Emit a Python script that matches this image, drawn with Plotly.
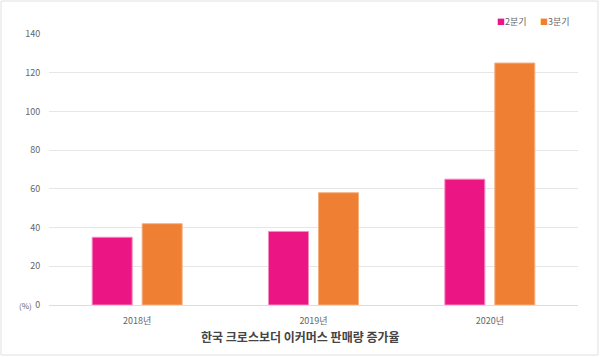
import plotly.graph_objects as go

years = ["2018년", "2019년", "2020년"]
q2 = [35, 38, 65]
q3 = [42, 58, 125]
series_names = ["2분기", "3분기"]
colors = ["#eb1584", "#ee7f33"]
y_ticks = [0, 20, 40, 60, 80, 100, 120, 140]
title_text = "한국 크로스보더 이커머스 판매량 증가율"

FONT = "Noto Sans CJK KR"
fig = go.Figure()
fig.add_trace(go.Bar(x=years, y=q2, name=series_names[0], showlegend=False,
                     marker=dict(color=colors[0], line=dict(color="#f58cc0", width=1))))
fig.add_trace(go.Bar(x=years, y=q3, name=series_names[1], showlegend=False,
                     marker=dict(color=colors[1], line=dict(color="#f5b080", width=1))))

L, R, T, B = 49, 22, 34, 52
W, H = 600, 357
pw, ph = W - L - R, H - T - B

def px_x(p):
    return (p - L) / pw

def px_y(p):
    return (H - B - p) / ph

legend_x = [512, 555]
annotations = [
    dict(text="(%)", xref="paper", yref="paper", x=px_x(25), y=0, xanchor="center", yanchor="middle",
         showarrow=False, font=dict(size=8, color="#666666")),
    dict(text="<b>" + title_text + "</b>", xref="paper", yref="paper", x=px_x(300), y=px_y(336),
         xanchor="center", yanchor="middle", showarrow=False, font=dict(size=12, color="#444444")),
]
for name, c, lx in zip(series_names, colors, legend_x):
    annotations.append(dict(
        text=f"<span style='color:{c};font-size:8px'>■</span>{name}",
        xref="paper", yref="paper", x=px_x(lx), y=px_y(22), xanchor="center", yanchor="middle",
        showarrow=False, font=dict(size=9, color="#666666")))

fig.update_layout(
    width=W, height=H,
    margin=dict(l=L, r=R, t=T, b=B, autoexpand=False),
    paper_bgcolor="white", plot_bgcolor="white",
    font=dict(family=FONT, color="#666666", size=9),
    barmode="group", bargap=0.433, bargroupgap=0.2,
    showlegend=False,
    xaxis=dict(showgrid=False, showline=False, ticks="outside", ticklen=7, tickcolor="rgba(0,0,0,0)",
               tickfont=dict(size=9, color="#666666")),
    yaxis=dict(range=[0, 140], tickvals=y_ticks, gridcolor="#e6e6e6", gridwidth=1,
               zeroline=True, zerolinecolor="#dddddd", zerolinewidth=1,
               tickfont=dict(size=9, color="#666666"), ticks="outside", ticklen=6,
               tickcolor="rgba(0,0,0,0)"),
    shapes=[dict(type="rect", xref="paper", yref="paper",
                 x0=px_x(1), x1=px_x(598), y0=px_y(355), y1=px_y(1),
                 line=dict(color="#e0e0e0", width=1), fillcolor="rgba(0,0,0,0)", layer="below")],
    annotations=annotations,
)

fig.write_html("out.html", config={"displayModeBar": False},
               post_script="document.body.style.margin='0';document.body.style.overflow='hidden';")
